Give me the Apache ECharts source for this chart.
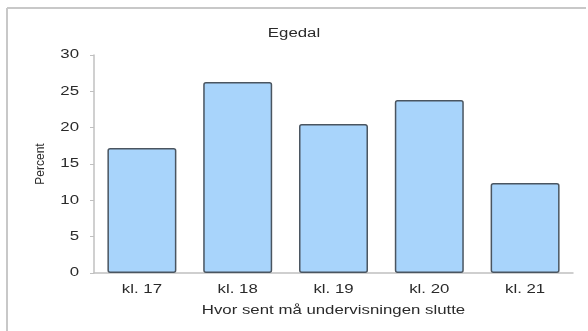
<!DOCTYPE html>
<html>
<head>
<meta charset="utf-8">
<script src="https://cdn.jsdelivr.net/npm/echarts@6/dist/echarts.min.js"></script>
<style>
html,body{margin:0;padding:0;background:#fff;}
#c{width:588px;height:331px;}
</style>
</head>
<body>
<div id="c"></div>
<script>
const title = "Egedal";
const categories = ["kl. 17", "kl. 18", "kl. 19", "kl. 20", "kl. 21"];
const values = [17.2, 26.3, 20.5, 23.8, 12.4];
const xAxisName = "Hvor sent må undervisningen slutte";
const yAxisName = "Percent";

const chart = echarts.init(document.getElementById('c'), null, {renderer: 'canvas'});
const font = 'Liberation Sans, Arial, sans-serif';
const txt = '#2a2a2a';
chart.setOption({
  animation: false,
  title: {
    text: title, left: 'center', top: 23,
    textStyle: {fontFamily: font, fontSize: 12, fontWeight: 'normal', color: txt}
  },
  graphic: [
    {type: 'line', shape: {x1: 7, y1: 8, x2: 586, y2: 8}, style: {stroke: '#c8c8c8', lineWidth: 2}},
    {type: 'line', shape: {x1: 7, y1: 8, x2: 7, y2: 331}, style: {stroke: '#c8c8c8', lineWidth: 2}}
  ],
  grid: {left: 94, right: 15, top: 55, bottom: 58},
  xAxis: {
    type: 'category', data: categories,
    name: xAxisName, nameLocation: 'middle', nameGap: 32,
    nameTextStyle: {fontFamily: font, fontSize: 12, color: txt},
    axisLine: {lineStyle: {color: '#c0c0c0', width: 1.5}},
    axisTick: {show: false},
    axisLabel: {fontFamily: font, fontSize: 12, color: txt, margin: 11}
  },
  yAxis: {
    type: 'value', min: 0, max: 30, interval: 5,
    name: yAxisName, nameLocation: 'middle', nameGap: 47, nameRotate: 90,
    nameTextStyle: {fontFamily: font, fontSize: 12, color: txt},
    axisLine: {show: true, lineStyle: {color: '#c0c0c0', width: 1.5}},
    axisTick: {show: true, length: 4, lineStyle: {color: '#c0c0c0'}},
    splitLine: {show: false},
    axisLabel: {fontFamily: font, fontSize: 12, color: txt, margin: 15}
  },
  series: [{
    type: 'bar', data: values, barWidth: '72%',
    itemStyle: {color: '#a8d4fb', borderColor: '#4a5560', borderWidth: 1.5, borderRadius: 2}
  }]
});

// The reference's lettering is horizontally stretched; widen texts that read horizontally.
(function widen() {
  try {
    const zr = chart.getZr();
    const walk = function (el, parentRot) {
      if (!el) return;
      const rot = parentRot + (el.rotation || 0);
      if (el.isGroup) { el.eachChild(function (c) { walk(c, rot); }); return; }
      if (el.type === 'text') {
        const norm = Math.abs(Math.atan2(Math.sin(rot), Math.cos(rot)));
        if (norm < 0.01) {
          el.scaleX = 1.4;
          el.markRedraw && el.markRedraw();
        }
      }
    };
    zr.storage.getRoots().forEach(function (r) { walk(r, 0); });
    zr.refreshImmediately();
  } catch (e) {}
})();
</script>
</body>
</html>
